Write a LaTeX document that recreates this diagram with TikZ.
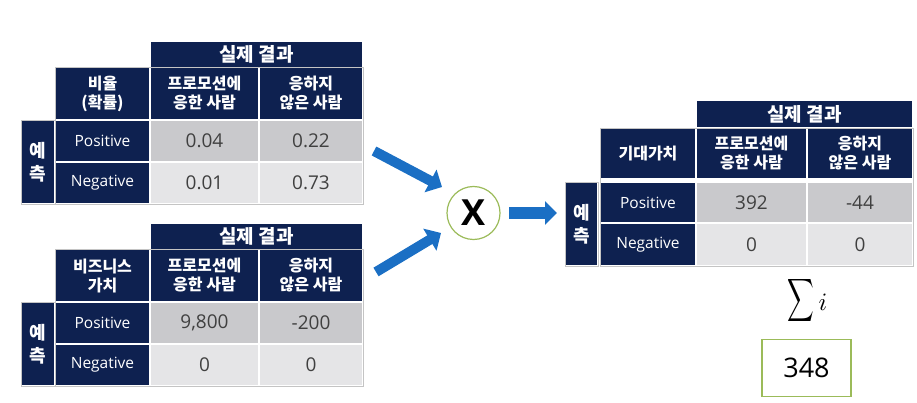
\documentclass[tikz,border=0pt]{standalone}
\usepackage{fontspec}
\usepackage{graphicx}
\setmainfont{Open Sans}
\newfontfamily\kr{Noto Sans CJK KR}
\usetikzlibrary{arrows.meta}
\definecolor{navy}{HTML}{0E2150}
\definecolor{gone}{HTML}{C9C9CC}
\definecolor{gtwo}{HTML}{E5E5E7}
\definecolor{numgray}{HTML}{404040}
\definecolor{linegray}{HTML}{C4C4C4}
\definecolor{arrowblue}{HTML}{1B6FC4}
\definecolor{okgreen}{HTML}{9BBB59}
\newcommand\cell[7]{\node[#6,minimum width={((#4)-(#2))*1pt},minimum height={((#5)-(#3))*1pt}] (#1) at ({((#2)+(#4))/2},{((#3)+(#5))/2}) {#7};}
\tikzset{
  base/.style={inner sep=0pt,outer sep=0pt,align=center},
  hdr/.style={base,fill=navy,text=white,font=\kr\bfseries\fontsize{19}{21}\selectfont},
  sub/.style={base,fill=navy,text=white,font=\kr\bfseries\fontsize{16}{19}\selectfont},
  lab/.style={base,fill=navy,text=white,font=\fontsize{15.5}{17}\selectfont},
  vone/.style={base,fill=gone,text=numgray,font=\fontsize{19}{21}\selectfont},
  vtwo/.style={base,fill=gtwo,text=numgray,font=\fontsize{19}{21}\selectfont},
  side/.style={base,fill=navy,text=white,font=\kr\bfseries\fontsize{18}{23}\selectfont},
  outline/.style={draw=linegray,line width=0.8pt},
  bigarrow/.style={draw=arrowblue,line width=10pt,-{Triangle[length=13pt,width=25pt]}},
}
% prefix, label, v11, v12, v21, v22
\newcommand\ctable[6]{%
  \cell{#1h}{151}{42}{362}{67}{hdr}{실제 결과}
  \cell{#1a}{56}{68}{149}{119}{sub}{#2}
  \cell{#1b}{151}{68}{258}{119}{sub}{프로모션에\\응한 사람}
  \cell{#1c}{260}{68}{362}{119}{sub}{응하지\\않은 사람}
  \cell{#1d}{56}{121}{149}{161}{lab}{Positive}
  \cell{#1e}{151}{121}{258}{161}{vone}{#3}
  \cell{#1f}{260}{121}{362}{161}{vone}{#4}
  \cell{#1g}{56}{163}{149}{203}{lab}{Negative}
  \cell{#1i}{151}{163}{258}{203}{vtwo}{#5}
  \cell{#1j}{260}{163}{362}{203}{vtwo}{#6}
  \cell{#1s}{22}{121}{54}{203}{side}{예\\측}
  \draw[outline] ([shift={(-1,-1)}]#1a.north west) rectangle ([shift={(1,1)}]#1j.south east);
  \draw[outline] ([shift={(-1,-1)}]#1s.north west) rectangle ([shift={(1,1)}]#1s.south east);
}
\begin{document}
\begin{tikzpicture}[x=1pt,y=-1pt]
\useasboundingbox (0,0) rectangle (917,403);
\ctable{A}{비율\\(확률)}{0.04}{0.22}{0.01}{0.73}
\begin{scope}[yshift=-182pt]
\ctable{B}{비즈니스\\가치}{9,800}{-200}{0}{0}
\end{scope}
% result table
\cell{Ch}{697}{101}{912}{127}{hdr}{실제 결과}
\cell{Ca}{601}{129}{695}{178}{sub}{기대가치}
\cell{Cb}{697}{129}{806}{178}{sub}{프로모션에\\응한 사람}
\cell{Cc}{808}{129}{912}{178}{sub}{응하지\\않은 사람}
\cell{Cd}{601}{183}{695}{222}{lab}{Positive}
\cell{Ce}{697}{183}{806}{222}{vone}{392}
\cell{Cf}{808}{183}{912}{222}{vone}{-44}
\cell{Cg}{601}{224}{695}{265}{lab}{Negative}
\cell{Ci}{697}{224}{806}{265}{vtwo}{0}
\cell{Cj}{808}{224}{912}{265}{vtwo}{0}
\cell{Cs}{566}{183}{597}{265}{side}{예\\측}
\draw[outline] ([shift={(-1,-1)}]Ca.north west) rectangle ([shift={(1,1)}]Cj.south east);
\draw[outline] ([shift={(-1,-1)}]Cs.north west) rectangle ([shift={(1,1)}]Cs.south east);
% multiply
\node[circle,draw=okgreen,line width=1.2pt,minimum size=53pt,inner sep=0pt,font=\bfseries\fontsize{36}{38}\selectfont] (X) at (473.5,213) {X};
\coordinate (a1s) at (374,151);
\coordinate (a1e) at (442,187);
\coordinate (a2s) at (376,272);
\coordinate (a2e) at (441,233);
\coordinate (a3s) at (509,213);
\coordinate (a3e) at (557,213);
\draw[bigarrow] (a1s) -- (a1e);
\draw[bigarrow] (a2s) -- (a2e);
\draw[draw=arrowblue,line width=12pt,-{Triangle[length=12pt,width=23pt]}] (a3s) -- (a3e);
% sum
\node[inner sep=0pt] (sum) at (801,301) {\scalebox{1.85}[3.0]{$\displaystyle\sum$}};
\node[inner sep=0pt] (sumi) at (823,302) {\scalebox{2.5}{$i$}};
\node[draw=okgreen,line width=1.5pt,minimum width=89pt,minimum height=57pt,inner sep=0pt,font=\fontsize{27}{29}\selectfont] (res) at (806.5,368) {348};
\end{tikzpicture}
\end{document}
